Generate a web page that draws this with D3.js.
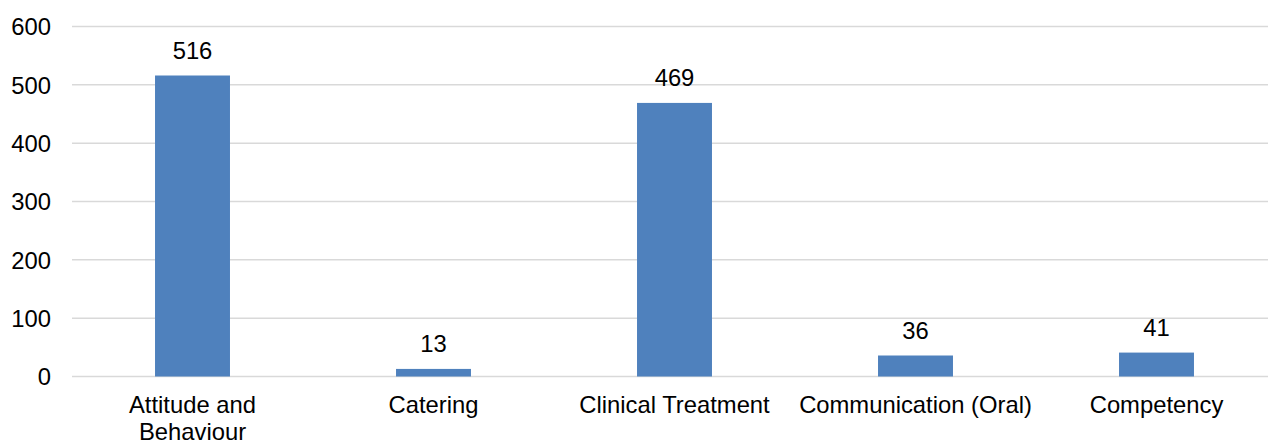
<!DOCTYPE html>
<html>
<head>
<meta charset="utf-8">
<script src="https://cdn.jsdelivr.net/npm/d3@7"></script>
<style>
  html, body { margin: 0; padding: 0; background: #ffffff; }
  svg { display: block; }
  text { font-family: "Liberation Sans", Arial, sans-serif; fill: #000000; }
</style>
</head>
<body>
<svg id="chart" width="1268" height="441"></svg>
<script>
// Complaint counts by subject
const categories = ["Attitude and Behaviour", "Catering", "Clinical Treatment", "Communication (Oral)", "Competency"];
const categoryLines = [["Attitude and", "Behaviour"], ["Catering"], ["Clinical Treatment"], ["Communication (Oral)"], ["Competency"]];
const counts = [516, 13, 469, 36, 41];
const yTicks = [0, 100, 200, 300, 400, 500, 600];

(function draw() {
  const svg = d3.select("#chart");
  const W = 1268;
  const plotLeft = 72, plotRight = 1277, plotTop = 26.5, plotBottom = 376.5;
  const fontSize = 23.8;

  const x = d3.scaleBand()
    .domain(categories)
    .range([plotLeft, plotRight])
    .paddingInner(0.689)
    .paddingOuter(0.689 / 2);

  const y = d3.scaleLinear().domain([0, 600]).range([plotBottom, plotTop]);

  // Horizontal gridlines
  svg.append("g")
    .selectAll("line")
    .data(yTicks)
    .join("line")
    .attr("x1", plotLeft)
    .attr("x2", W)
    .attr("y1", d => y(d))
    .attr("y2", d => y(d))
    .attr("stroke", "#d9d9d9")
    .attr("stroke-width", 1.5);

  // Y axis labels
  const yAxis = d3.axisLeft(y).tickValues(yTicks).tickSize(0).tickPadding(0);
  const yg = svg.append("g").attr("transform", "translate(51,0)").call(yAxis);
  yg.select(".domain").remove();
  yg.selectAll("text")
    .attr("font-size", fontSize)
    .attr("font-family", "Liberation Sans, Arial, sans-serif")
    .attr("fill", "#000")
    .attr("dy", "0.35em");

  // Bars
  svg.append("g")
    .selectAll("rect")
    .data(counts)
    .join("rect")
    .attr("x", (d, i) => x(categories[i]))
    .attr("width", x.bandwidth())
    .attr("y", d => y(d))
    .attr("height", d => y(0) - y(d))
    .attr("fill", "#4f81bd");

  // Value labels above bars
  svg.append("g")
    .selectAll("text")
    .data(counts)
    .join("text")
    .attr("x", (d, i) => x(categories[i]) + x.bandwidth() / 2)
    .attr("y", d => y(d) - 17)
    .attr("text-anchor", "middle")
    .attr("font-size", fontSize)
    .text(d => d);

  // Category labels
  const xl = svg.append("g")
    .selectAll("text")
    .data(categories)
    .join("text")
    .attr("x", d => x(d) + x.bandwidth() / 2)
    .attr("y", 413)
    .attr("text-anchor", "middle")
    .attr("font-size", fontSize);
  xl.each(function(d, i) {
    const t = d3.select(this);
    categoryLines[i].forEach((line, k) => {
      t.append("tspan")
        .attr("x", x(d) + x.bandwidth() / 2)
        .attr("dy", k === 0 ? 0 : 27)
        .text(line);
    });
  });
})();
</script>
</body>
</html>
